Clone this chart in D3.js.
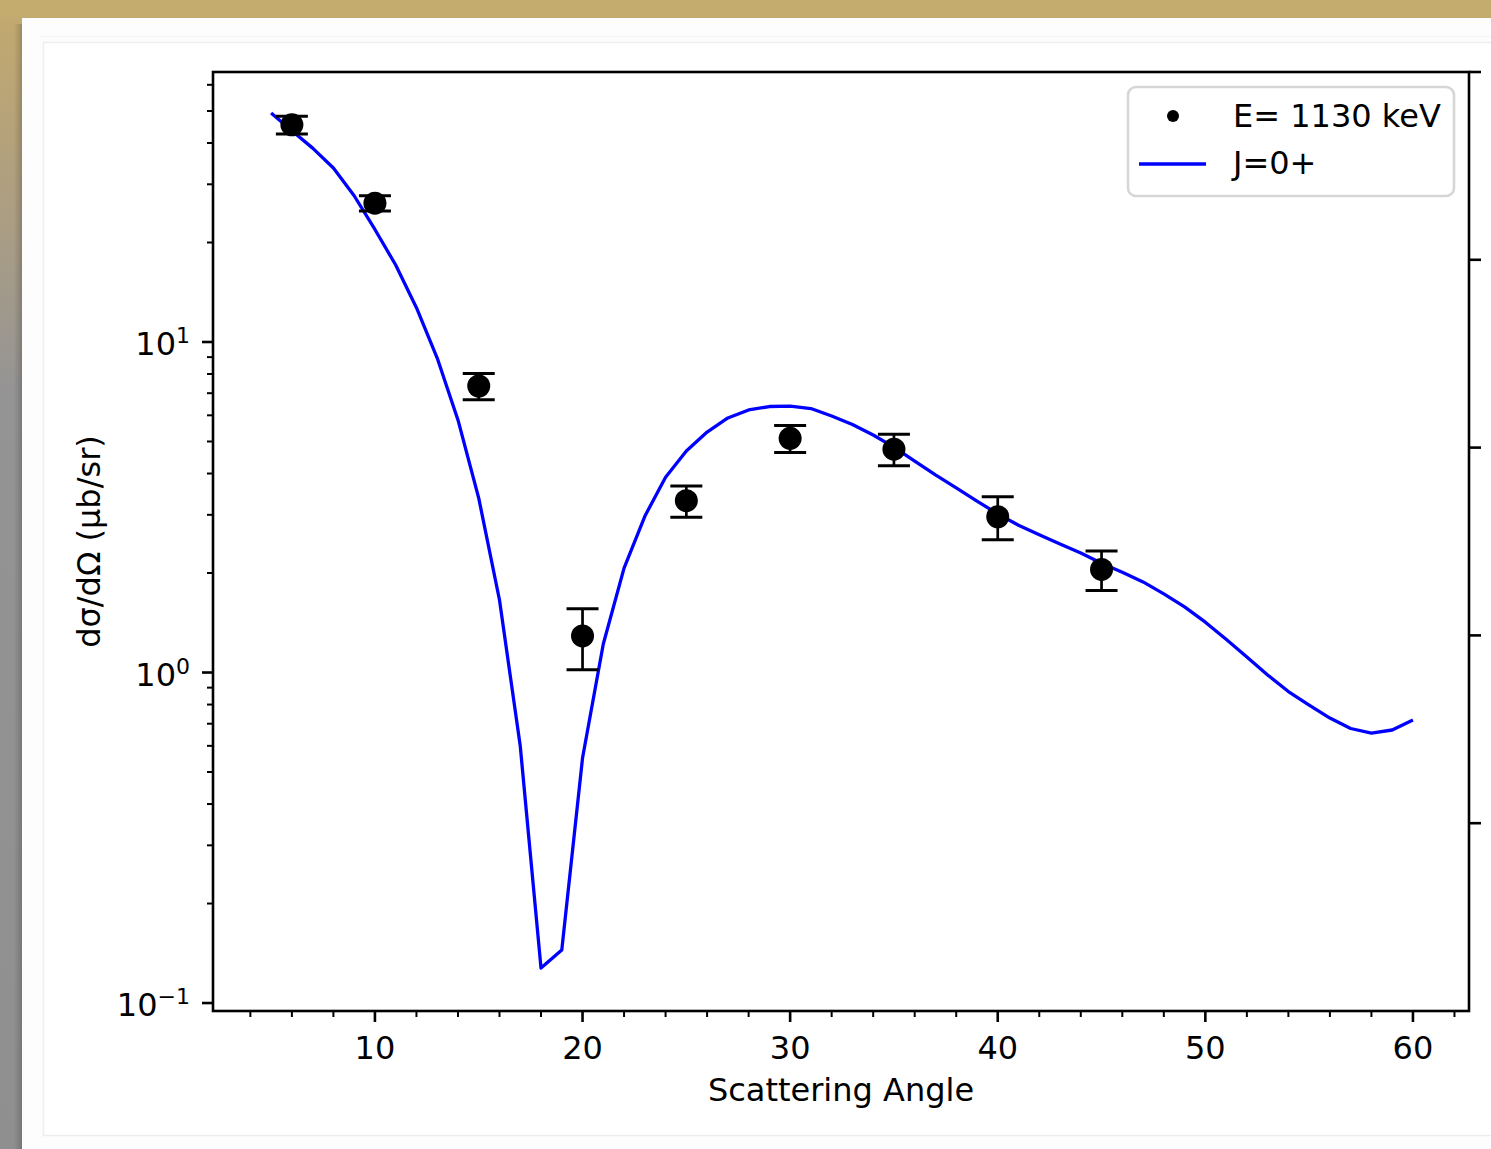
<!DOCTYPE html>
<html>
<head>
<meta charset="utf-8">
<script src="https://cdn.jsdelivr.net/npm/d3@7"></script>
<style>
    body { margin: 0; padding: 0; overflow: hidden; background: #fff; }
    svg { display: block; font-family: "DejaVu Sans", sans-serif; }
</style>
</head>
<body>
<div id="chart"></div>
<script>
// measured points (angle, cross section, error)
var pointAngles = [6, 10, 15, 20, 25, 30, 35, 40, 45];
var pointValues = [45.4, 26.3, 7.36, 1.29, 3.31, 5.11, 4.74, 2.96, 2.05];
var pointErrors = [2.8, 1.4, 0.67, 0.27, 0.36, 0.48, 0.52, 0.44, 0.28];

// calculation J=0+
var curveAngles = [5, 6, 7, 8, 9, 10, 11, 12, 13, 14, 15, 16, 17, 18, 19, 20,
    21, 22, 23, 24, 25, 26, 27, 28, 29, 30, 31, 32, 33, 34, 35, 36, 37, 38, 39, 40,
    41, 42, 43, 44, 45, 46, 47, 48, 49, 50, 51, 52, 53, 54, 55, 56, 57, 58, 59, 60];
var curveValues = [49.3, 43.6, 38.6, 33.6, 27.7, 21.9, 17.1, 12.7, 8.94, 5.81, 3.37, 1.657, 0.599, 0.1276, 0.1446, 0.551,
    1.22, 2.07, 2.97, 3.90, 4.68, 5.34, 5.89, 6.23, 6.38, 6.40, 6.29, 5.97, 5.63, 5.23, 4.81, 4.36, 3.96, 3.62, 3.30, 3.02,
    2.79, 2.61, 2.45, 2.30, 2.14, 2.01, 1.88, 1.73, 1.58, 1.42, 1.26, 1.114, 0.983, 0.876, 0.797, 0.728, 0.677, 0.656, 0.670, 0.718];

var xMajorTicks = [10, 20, 30, 40, 50, 60];
var xMinorTicks = [4, 6, 8, 12, 14, 16, 18, 22, 24, 26, 28, 32, 34, 36, 38, 42, 44, 46, 48, 52, 54, 56, 58, 62];
var yMajorTicks = [0.1, 1, 10];
var yMajorLabels = [["10", "\u22121"], ["10", "0"], ["10", "1"]];
var yMinorTicks = [0.2, 0.3, 0.4, 0.5, 0.6, 0.7, 0.8, 0.9, 2, 3, 4, 5, 6, 7, 8, 9, 20, 30, 40, 50, 60];
var rightTicks = [0.2, 0.4, 0.6, 0.8, 1.0];

var legendLabels = ["E= 1130 keV", "J=0+"];

var width = 1491, height = 1149;
var plot = {left: 213, right: 1469, top: 72, bottom: 1011};

var svg = d3.select("#chart").append("svg")
    .attr("width", width)
    .attr("height", height);

drawBackground();

var x = d3.scaleLinear().domain([2.2, 62.7]).range([plot.left, plot.right]);
var y = d3.scaleLog().domain([0.0946, 65.6]).range([plot.bottom, plot.top]);
var yRight = d3.scaleLinear().domain([0, 1]).range([plot.bottom, plot.top]);

drawAxes();
drawData();
drawLegend();

/**
 * Page decoration around the figure (window frame)
 */
function drawBackground() {
    var defs = svg.append("defs");
    var grad = defs.append("linearGradient").attr("id", "sideGrad")
        .attr("x1", 0).attr("y1", 0).attr("x2", 0).attr("y2", 1);
    grad.append("stop").attr("offset", "0%").attr("stop-color", "#c3aa6d");
    grad.append("stop").attr("offset", "12%").attr("stop-color", "#b5a27b");
    grad.append("stop").attr("offset", "34%").attr("stop-color", "#959494");
    grad.append("stop").attr("offset", "100%").attr("stop-color", "#8f8f8f");
    var shadow = defs.append("linearGradient").attr("id", "shadowGrad")
        .attr("x1", 0).attr("y1", 0).attr("x2", 1).attr("y2", 0);
    shadow.append("stop").attr("offset", "0%").attr("stop-color", "#000").attr("stop-opacity", 0);
    shadow.append("stop").attr("offset", "100%").attr("stop-color", "#000").attr("stop-opacity", 0.18);

    svg.append("rect").attr("x", 0).attr("y", 0).attr("width", width).attr("height", height)
        .attr("fill", "url(#sideGrad)");
    svg.append("rect").attr("x", 0).attr("y", 0).attr("width", width).attr("height", 17)
        .attr("fill", "#c4ab6e");
    svg.append("rect").attr("x", 14).attr("y", 24).attr("width", 8).attr("height", height)
        .attr("fill", "url(#shadowGrad)");
    svg.append("rect").attr("x", 22).attr("y", 18).attr("width", width).attr("height", height)
        .attr("fill", "#fdfdfd");
    svg.append("line").attr("x1", 40).attr("x2", width).attr("y1", 36.5).attr("y2", 36.5)
        .attr("stroke", "#f3f3f3").attr("stroke-width", 1);
    svg.append("rect").attr("x", 43.5).attr("y", 42.5).attr("width", width).attr("height", 1093)
        .attr("fill", "#fff").attr("stroke", "#eeeeee").attr("stroke-width", 1.5);
}

function drawAxes() {
    var g = svg.append("g").attr("class", "axes");

    // x ticks
    g.selectAll(".xMinor").data(xMinorTicks).enter().append("line")
        .attr("x1", function (d) { return x(d); }).attr("x2", function (d) { return x(d); })
        .attr("y1", plot.bottom).attr("y2", plot.bottom + 6)
        .attr("stroke", "#000").attr("stroke-width", 2);
    g.selectAll(".xMajor").data(xMajorTicks).enter().append("line")
        .attr("x1", function (d) { return x(d); }).attr("x2", function (d) { return x(d); })
        .attr("y1", plot.bottom).attr("y2", plot.bottom + 11)
        .attr("stroke", "#000").attr("stroke-width", 2.6);
    g.selectAll(".xLabel").data(xMajorTicks).enter().append("text")
        .attr("x", function (d) { return x(d); })
        .attr("y", 1059)
        .attr("text-anchor", "middle")
        .attr("font-size", 32)
        .text(function (d) { return d; });

    // y ticks (log)
    g.selectAll(".yMinor").data(yMinorTicks).enter().append("line")
        .attr("x1", plot.left - 6).attr("x2", plot.left)
        .attr("y1", function (d) { return y(d); }).attr("y2", function (d) { return y(d); })
        .attr("stroke", "#000").attr("stroke-width", 2);
    g.selectAll(".yMajor").data(yMajorTicks).enter().append("line")
        .attr("x1", plot.left - 11).attr("x2", plot.left)
        .attr("y1", function (d) { return y(d); }).attr("y2", function (d) { return y(d); })
        .attr("stroke", "#000").attr("stroke-width", 2.6);
    var labels = g.selectAll(".yLabel").data(yMajorTicks).enter().append("text")
        .attr("x", 190)
        .attr("y", function (d) { return y(d) + 13; })
        .attr("text-anchor", "end")
        .attr("font-size", 32);
    labels.append("tspan").text(function (d, i) { return yMajorLabels[i][0]; });
    labels.append("tspan").attr("font-size", 22).attr("dy", -12)
        .text(function (d, i) { return yMajorLabels[i][1]; });

    // right twin axis ticks (labels fall outside the picture)
    g.selectAll(".rTick").data(rightTicks).enter().append("line")
        .attr("x1", plot.right).attr("x2", plot.right + 12)
        .attr("y1", function (d) { return yRight(d); }).attr("y2", function (d) { return yRight(d); })
        .attr("stroke", "#000").attr("stroke-width", 2.6);

    // spines
    g.append("rect")
        .attr("x", plot.left).attr("y", plot.top)
        .attr("width", plot.right - plot.left).attr("height", plot.bottom - plot.top)
        .attr("fill", "none").attr("stroke", "#000").attr("stroke-width", 2.6);

    // axis titles
    g.append("text")
        .attr("x", (plot.left + plot.right) / 2).attr("y", 1101)
        .attr("text-anchor", "middle").attr("font-size", 32)
        .text("Scattering Angle");
    g.append("text")
        .attr("transform", "translate(100," + ((plot.top + plot.bottom) / 2) + ") rotate(-90)")
        .attr("text-anchor", "middle").attr("font-size", 32)
        .text("d\u03c3/d\u03a9 (\u03bcb/sr)");
}

function drawData() {
    var curve = curveAngles.map(function (a, i) { return [a, curveValues[i]]; });
    var line = d3.line()
        .x(function (d) { return x(d[0]); })
        .y(function (d) { return y(d[1]); });
    svg.append("path")
        .datum(curve)
        .attr("d", line)
        .attr("fill", "none")
        .attr("stroke", "#0000ff")
        .attr("stroke-width", 3.3)
        .attr("stroke-linejoin", "round");

    var pts = pointAngles.map(function (a, i) {
        return {a: a, v: pointValues[i], e: pointErrors[i]};
    });
    var bars = svg.append("g").attr("class", "errorbars");
    bars.selectAll(".ebar").data(pts).enter().append("line")
        .attr("x1", function (d) { return x(d.a); }).attr("x2", function (d) { return x(d.a); })
        .attr("y1", function (d) { return y(d.v - d.e); }).attr("y2", function (d) { return y(d.v + d.e); })
        .attr("stroke", "#000").attr("stroke-width", 2.7);
    [-1, 1].forEach(function (s) {
        bars.selectAll(".cap" + s).data(pts).enter().append("line")
            .attr("x1", function (d) { return x(d.a) - 16; }).attr("x2", function (d) { return x(d.a) + 16; })
            .attr("y1", function (d) { return y(d.v + s * d.e); }).attr("y2", function (d) { return y(d.v + s * d.e); })
            .attr("stroke", "#000").attr("stroke-width", 3);
    });
    bars.selectAll(".dot").data(pts).enter().append("circle")
        .attr("cx", function (d) { return x(d.a); })
        .attr("cy", function (d) { return y(d.v); })
        .attr("r", 11.5)
        .attr("fill", "#000");
}

function drawLegend() {
    var lg = svg.append("g").attr("class", "legend");
    lg.append("rect")
        .attr("x", 1128).attr("y", 87)
        .attr("width", 326).attr("height", 109)
        .attr("rx", 8).attr("ry", 8)
        .attr("fill", "#fff").attr("fill-opacity", 0.8)
        .attr("stroke", "#d6d6d6").attr("stroke-width", 2.6);
    lg.append("circle").attr("cx", 1173).attr("cy", 116).attr("r", 6).attr("fill", "#000");
    lg.append("line").attr("x1", 1139).attr("x2", 1206).attr("y1", 164).attr("y2", 164)
        .attr("stroke", "#0000ff").attr("stroke-width", 3.3);
    lg.selectAll(".lgText").data(legendLabels).enter().append("text")
        .attr("x", 1233)
        .attr("y", function (d, i) { return 127 + i * 47; })
        .attr("font-size", 32)
        .text(function (d) { return d; });
}
</script>
</body>
</html>
